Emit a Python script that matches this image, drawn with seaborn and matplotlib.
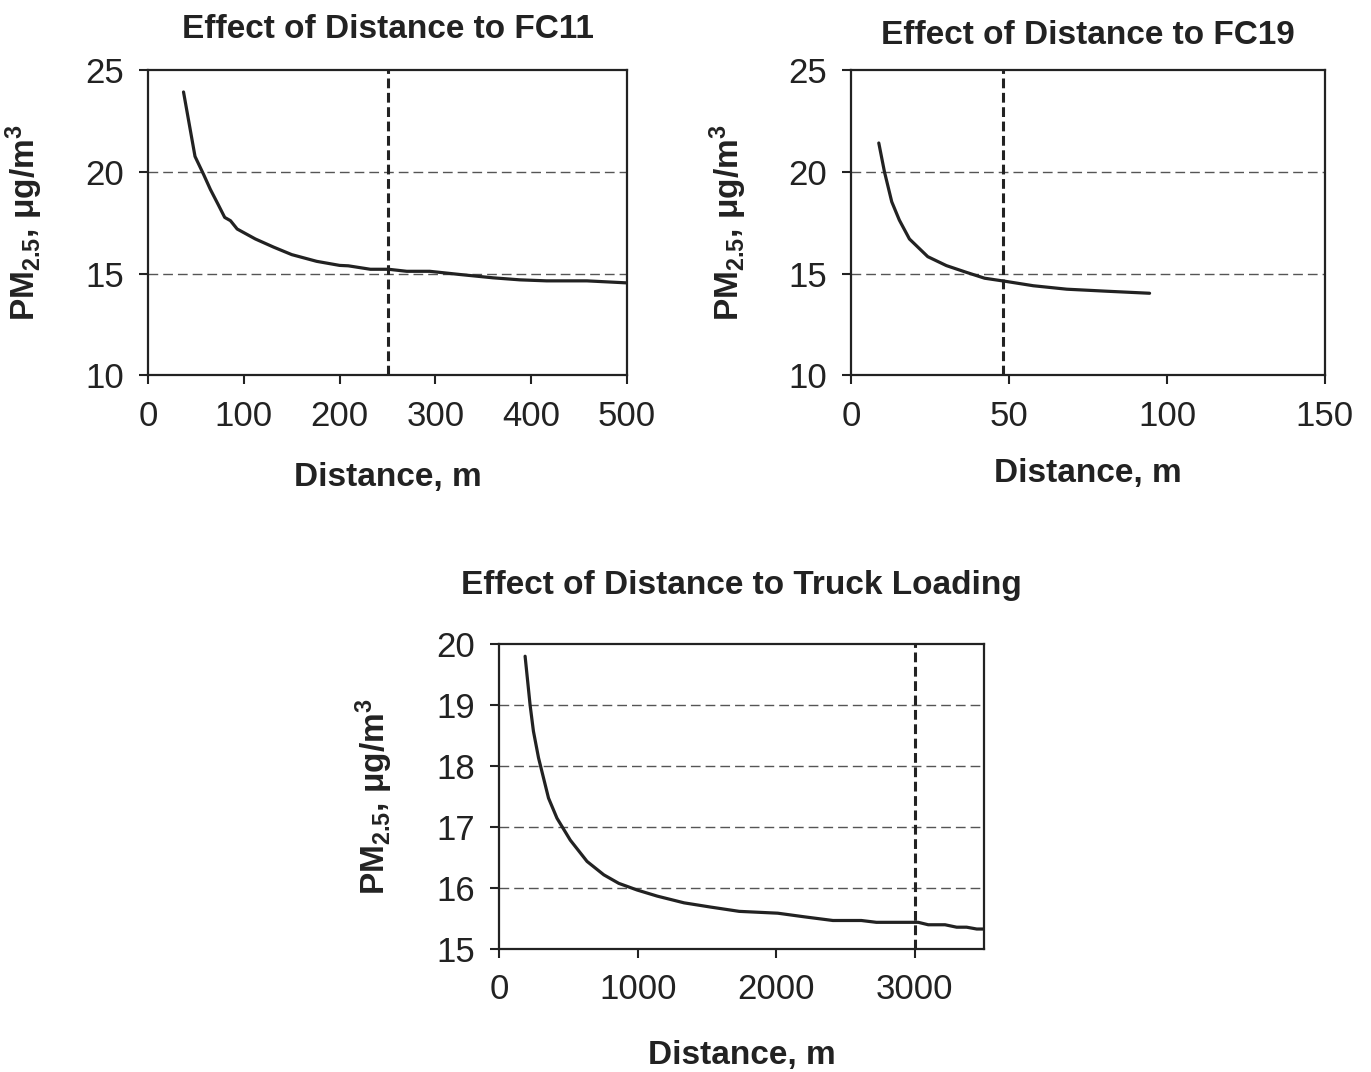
import matplotlib
matplotlib.use('Agg')
import matplotlib.pyplot as plt
import seaborn as sns
import pandas as pd

sns.set_theme(style='ticks')
plt.rcParams['font.family'] = ['Liberation Sans', 'DejaVu Sans']
plt.rcParams['mathtext.fontset'] = 'custom'
plt.rcParams['mathtext.rm'] = 'Liberation Sans:bold'
plt.rcParams['mathtext.bf'] = 'Liberation Sans:bold'
plt.rcParams['mathtext.default'] = 'bf'

# FC11
fc11_dist = [37, 49, 58, 65, 73, 80, 86, 93, 112, 131, 150, 176, 200, 209, 232, 251, 270, 294, 326, 360, 388, 416, 458, 500]
fc11_pm = [23.93, 20.76, 19.87, 19.14, 18.41, 17.76, 17.60, 17.19, 16.70, 16.30, 15.93, 15.60, 15.40, 15.38, 15.21, 15.21, 15.11, 15.11, 14.95, 14.79, 14.69, 14.64, 14.64, 14.54]
fc11_ref = 250

# FC19
fc19_dist = [8.8, 10.6, 12.9, 15.3, 18.5, 24.3, 30.2, 36.5, 42.3, 49.2, 57.7, 68.3, 81.0, 94.5]
fc19_pm = [21.42, 20.0, 18.53, 17.63, 16.70, 15.83, 15.39, 15.06, 14.77, 14.61, 14.40, 14.23, 14.13, 14.03]
fc19_ref = 48

# truck loading
truck_dist = [188, 224, 248, 285, 321, 357, 418, 514, 635, 756, 864, 997, 1142, 1335, 1528, 1733, 2011,
              2204, 2409, 2614, 2723, 3025, 3097, 3218, 3302, 3374, 3447, 3519]
truck_pm = [19.80, 19.0, 18.57, 18.13, 17.80, 17.47, 17.14, 16.78, 16.43, 16.21, 16.07, 15.96, 15.86, 15.75,
            15.68, 15.61, 15.58, 15.52, 15.46, 15.46, 15.43, 15.43, 15.39, 15.39, 15.35, 15.35, 15.32, 15.32]
truck_ref = 3000

YLABEL = 'PM$_{2.5}$, μg/m$^3$'

fig = plt.figure(figsize=(13.71, 10.72), dpi=100)


def draw(rect, dist, pm, ref, title, xlim, xticks, ylim, yticks, grid_y, title_pad, xlab_y):
    ax = fig.add_axes(rect)
    df = pd.DataFrame({'dist': dist, 'pm': pm})
    sns.lineplot(data=df, x='dist', y='pm', ax=ax, color='#222222', linewidth=2.3)
    for g in grid_y:
        ax.axhline(g, color='#555555', linewidth=1.0, linestyle=(0, (7, 3.6)), zorder=1)
    ax.axvline(ref, color='#222222', linewidth=2.2, linestyle=(0, (3.2, 1.5)), zorder=2)
    ax.set_xlim(*xlim)
    ax.set_ylim(*ylim)
    ax.set_xticks(xticks)
    ax.set_yticks(yticks)
    ax.tick_params(axis='both', direction='out', length=6.5, width=1.5, pad=11,
                   labelsize=25, colors='#222222')
    for s in ax.spines.values():
        s.set_visible(True)
        s.set_linewidth(1.6)
        s.set_color('#222222')
    ax.set_title(title, fontsize=24, fontweight='bold', pad=title_pad, color='#222222')
    ax.set_xlabel('Distance, m', fontsize=24, fontweight='bold', color='#222222')
    ax.set_ylabel(YLABEL, fontsize=24, fontweight='bold', color='#222222')
    ax.xaxis.set_label_coords(0.5, xlab_y)
    ax.yaxis.set_label_coords(-0.215, 0.5)
    return ax


draw([0.108, 0.650, 0.3494, 0.2845], fc11_dist, fc11_pm, fc11_ref, 'Effect of Distance to FC11',
     (0, 500), [0, 100, 200, 300, 400, 500], (10, 25), [10, 15, 20, 25], [15, 20], 23, -0.285)
draw([0.6207, 0.650, 0.3457, 0.2845], fc19_dist, fc19_pm, fc19_ref, 'Effect of Distance to FC19',
     (0, 150), [0, 50, 100, 150], (10, 25), [10, 15, 20, 25], [15, 20], 19, -0.272)
draw([0.364, 0.1152, 0.3538, 0.284], truck_dist, truck_pm, truck_ref, 'Effect of Distance to Truck Loading',
     (0, 3500), [0, 1000, 2000, 3000], (15, 20), [15, 16, 17, 18, 19, 20], [16, 17, 18, 19], 36, -0.30)

fig.savefig('out.png', dpi=100)
